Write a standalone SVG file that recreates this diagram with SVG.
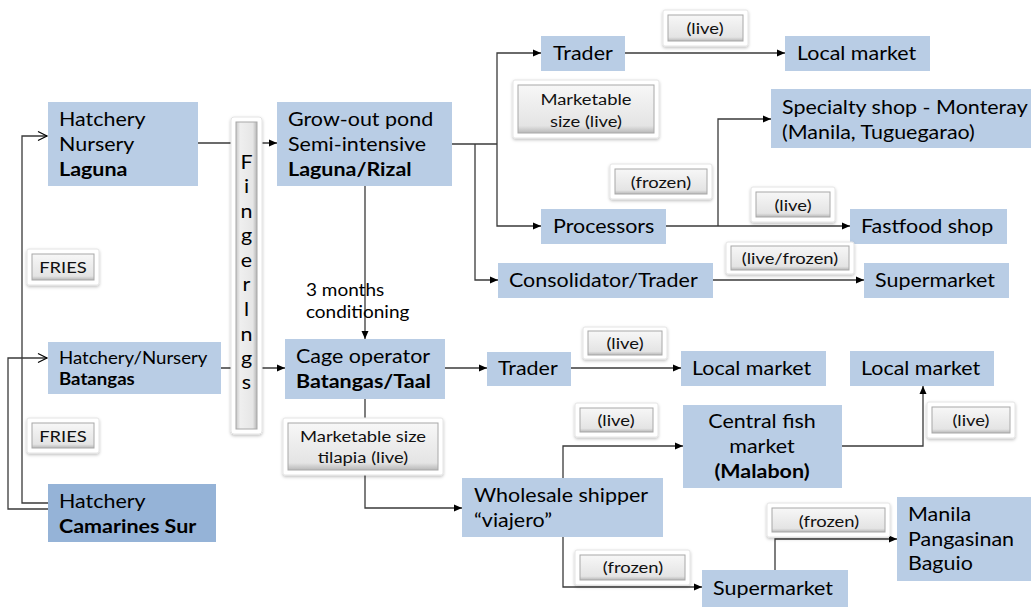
<svg xmlns="http://www.w3.org/2000/svg" width="1031" height="607" viewBox="0 0 1031 607">
<defs>
<style>
.box{fill:#B9CDE5}
.box2{fill:#95B3D7}
.t{font-family:Lato,"Liberation Sans",sans-serif;font-size:19px;fill:#000;transform-box:fill-box;transform-origin:0 0;transform:scaleX(1.13)}
.s{font-size:16.5px}
.b{font-weight:bold}
.c{text-anchor:middle;transform-origin:50% 0}
.sm{font-size:16.5px;transform:scaleX(1.15)}
.lt{font-family:Lato,"Liberation Sans",sans-serif;font-size:16px;fill:#111;text-anchor:middle;transform-box:fill-box;transform-origin:50% 0;transform:scaleX(1.15)}
.ln{stroke:#3a3a3a;stroke-width:1.3;fill:none}
.fa{marker-end:url(#arr)}
.oa{marker-end:url(#oarr)}
.lo{fill:#fff;stroke:#e4e4e4;stroke-width:1;filter:url(#sh)}
.li{fill:url(#gg);stroke:#a8a8a8;stroke-width:1}
</style>
<linearGradient id="gg" x1="0" y1="0" x2="0" y2="1">
<stop offset="0" stop-color="#f7f7f7"/>
<stop offset="0.85" stop-color="#e4e4e4"/>
<stop offset="1" stop-color="#b8b8b8"/>
</linearGradient>
<linearGradient id="gv" x1="0" y1="0" x2="1" y2="0">
<stop offset="0" stop-color="#c8c8c8"/>
<stop offset="0.2" stop-color="#efefef"/>
<stop offset="0.8" stop-color="#e6e6e6"/>
<stop offset="1" stop-color="#b5b5b5"/>
</linearGradient>
<filter id="sh" x="-20%" y="-30%" width="140%" height="170%">
<feDropShadow dx="0" dy="1.5" stdDeviation="1.5" flood-color="#000" flood-opacity="0.25"/>
</filter>
<marker id="arr" markerUnits="userSpaceOnUse" markerWidth="9" markerHeight="8" refX="8" refY="4" orient="auto">
<path d="M0,0.5 L8,4 L0,7.5 z" fill="#000"/>
</marker>
<marker id="oarr" markerUnits="userSpaceOnUse" markerWidth="12" markerHeight="12" refX="10" refY="6" orient="auto">
<path d="M1,1.5 L10,6 L1,10.5" fill="none" stroke="#000" stroke-width="1.2"/>
</marker>
</defs>
<rect width="1031" height="607" fill="#fff"/>

<g id="connectors">
<polyline class="ln oa" points="48,503 22,503 22,136 47,136"/>
<polyline class="ln oa" points="48,509 8,509 8,358 47,358"/>
<line class="ln fa" x1="198" y1="143" x2="277" y2="143"/>
<line class="ln fa" x1="221" y1="368" x2="285" y2="368"/>
<line class="ln fa" x1="365" y1="186" x2="365" y2="339"/>
<polyline class="ln" points="452,144 497,144"/>
<polyline class="ln fa" points="497,144 497,53 541,53"/>
<polyline class="ln fa" points="497,144 497,226 541,226"/>
<polyline class="ln fa" points="475,144 475,280 498,280"/>
<line class="ln fa" x1="625" y1="53" x2="785" y2="53"/>
<line class="ln fa" x1="666" y1="226" x2="850" y2="226"/>
<polyline class="ln fa" points="718,226 718,119 771,119"/>
<line class="ln fa" x1="713" y1="280" x2="864" y2="280"/>
<line class="ln fa" x1="445" y1="368" x2="487" y2="368"/>
<line class="ln fa" x1="571" y1="368" x2="681" y2="368"/>
<polyline class="ln fa" points="365,399 365,508 462,508"/>
<polyline class="ln fa" points="563,478 563,446 683,446"/>
<polyline class="ln fa" points="563,537 563,587 702,587"/>
<polyline class="ln fa" points="842,446 923,446 923,386"/>
<polyline class="ln fa" points="775,570 775,539 897,539"/>
</g>

<g id="hatchery-laguna">
<rect class="box" x="48" y="102" width="150" height="84"/>
<text class="t" x="59" y="126">Hatchery</text>
<text class="t" x="59" y="151">Nursery</text>
<text class="t b" x="59" y="176">Laguna</text>
</g>
<g id="hatchery-batangas">
<rect class="box" x="48" y="342" width="173" height="52"/>
<text class="t s" x="59" y="364">Hatchery/Nursery</text>
<text class="t s b" x="59" y="385">Batangas</text>
</g>
<g id="hatchery-camarines">
<rect class="box2" x="48" y="484" width="168" height="58"/>
<text class="t" x="59" y="508">Hatchery</text>
<text class="t b" x="59" y="533">Camarines Sur</text>
</g>
<g id="fries-1">
<rect class="lo" x="27" y="249" width="72" height="36" rx="2"/>
<rect class="li" x="32" y="254" width="62" height="26"/>
<text class="lt" x="63" y="273">FRIES</text>
</g>
<g id="fries-2">
<rect class="lo" x="27" y="418" width="72" height="35" rx="2"/>
<rect class="li" x="32" y="423" width="62" height="25"/>
<text class="lt" x="63" y="442">FRIES</text>
</g>
<g id="fingerlings">
<rect class="lo" x="231" y="117" width="31" height="317" rx="3"/>
<rect x="236" y="122" width="21" height="307" fill="url(#gv)" stroke="#a8a8a8" stroke-width="1"/>
<text class="t c" x="246.5" y="169">F</text>
<text class="t c" x="246.5" y="193">i</text>
<text class="t c" x="246.5" y="218">n</text>
<text class="t c" x="246.5" y="242">g</text>
<text class="t c" x="246.5" y="267">e</text>
<text class="t c" x="246.5" y="291">r</text>
<text class="t c" x="246.5" y="316">l</text>
<text class="t c" x="246.5" y="341">n</text>
<text class="t c" x="246.5" y="365">g</text>
<text class="t c" x="246.5" y="389">s</text>
</g>
<g id="grow-out-pond">
<rect class="box" x="277" y="102" width="175" height="84"/>
<text class="t" x="288" y="126">Grow-out pond</text>
<text class="t" x="288" y="151">Semi-intensive</text>
<text class="t b" x="288" y="176">Laguna/Rizal</text>
</g>
<g id="conditioning-label">
<text class="t sm" x="306" y="296">3 months</text>
<text class="t sm" x="306" y="318">conditioning</text>
</g>
<g id="cage-operator">
<rect class="box" x="285" y="339" width="160" height="60"/>
<text class="t" x="296" y="363">Cage operator</text>
<text class="t b" x="296" y="388">Batangas/Taal</text>
</g>
<g id="trader-1">
<rect class="box" x="541" y="36" width="84" height="35"/>
<text class="t" x="553" y="60">Trader</text>
</g>
<g id="live-1">
<rect class="lo" x="663" y="10" width="85" height="36" rx="2"/>
<rect class="li" x="668" y="15" width="75" height="26"/>
<text class="lt" x="705" y="34">(live)</text>
</g>
<g id="local-market-1">
<rect class="box" x="785" y="36" width="145" height="35"/>
<text class="t" x="797" y="60">Local market</text>
</g>
<g id="marketable-size-live">
<rect class="lo" x="513" y="80" width="146" height="58" rx="2"/>
<rect class="li" x="518" y="85" width="136" height="48"/>
<text class="lt" x="586" y="105">Marketable</text>
<text class="lt" x="586" y="127">size (live)</text>
</g>
<g id="specialty-shop">
<rect class="box" x="771" y="89" width="260" height="59"/>
<text class="t" x="782" y="114">Specialty shop - Monteray</text>
<text class="t" x="782" y="139">(Manila, Tuguegarao)</text>
</g>
<g id="frozen-1">
<rect class="lo" x="610" y="164" width="102" height="35" rx="2"/>
<rect class="li" x="615" y="169" width="92" height="25"/>
<text class="lt" x="661" y="188">(frozen)</text>
</g>
<g id="processors">
<rect class="box" x="541" y="209" width="125" height="35"/>
<text class="t" x="553" y="233">Processors</text>
</g>
<g id="live-2">
<rect class="lo" x="751" y="187" width="84" height="35" rx="2"/>
<rect class="li" x="756" y="192" width="74" height="25"/>
<text class="lt" x="793" y="211">(live)</text>
</g>
<g id="fastfood-shop">
<rect class="box" x="850" y="209" width="157" height="35"/>
<text class="t" x="861" y="233">Fastfood shop</text>
</g>
<g id="live-frozen">
<rect class="lo" x="726" y="242" width="128" height="32" rx="2"/>
<rect class="li" x="731" y="246" width="118" height="24"/>
<text class="lt" x="790" y="264">(live/frozen)</text>
</g>
<g id="consolidator-trader">
<rect class="box" x="498" y="263" width="215" height="35"/>
<text class="t" x="509" y="287">Consolidator/Trader</text>
</g>
<g id="supermarket-1">
<rect class="box" x="864" y="263" width="145" height="35"/>
<text class="t" x="875" y="287">Supermarket</text>
</g>
<g id="trader-2">
<rect class="box" x="487" y="352" width="84" height="34"/>
<text class="t" x="498" y="375">Trader</text>
</g>
<g id="live-3">
<rect class="lo" x="583" y="327" width="84" height="32" rx="2"/>
<rect class="li" x="588" y="331" width="74" height="24"/>
<text class="lt" x="625" y="349">(live)</text>
</g>
<g id="local-market-2">
<rect class="box" x="681" y="351" width="145" height="35"/>
<text class="t" x="692" y="375">Local market</text>
</g>
<g id="local-market-3">
<rect class="box" x="850" y="351" width="144" height="35"/>
<text class="t" x="861" y="375">Local market</text>
</g>
<g id="marketable-size-tilapia">
<rect class="lo" x="283" y="418" width="160" height="57" rx="2"/>
<rect class="li" x="288" y="423" width="150" height="47"/>
<text class="lt" x="363" y="442">Marketable size</text>
<text class="lt" x="363" y="463">tilapia (live)</text>
</g>
<g id="live-4">
<rect class="lo" x="575" y="403" width="83" height="34" rx="2"/>
<rect class="li" x="580" y="408" width="73" height="24"/>
<text class="lt" x="616" y="426">(live)</text>
</g>
<g id="central-fish-market">
<rect class="box" x="683" y="405" width="159" height="83"/>
<text class="t c" x="762" y="428">Central fish</text>
<text class="t c" x="762" y="453">market</text>
<text class="t c b" x="762" y="478">(Malabon)</text>
</g>
<g id="live-5">
<rect class="lo" x="927" y="402" width="88" height="36" rx="2"/>
<rect class="li" x="932" y="407" width="78" height="26"/>
<text class="lt" x="971" y="426">(live)</text>
</g>
<g id="wholesale-shipper">
<rect class="box" x="462" y="478" width="201" height="59"/>
<text class="t" x="474" y="502">Wholesale shipper</text>
<text class="t" x="474" y="527">“viajero”</text>
</g>
<g id="frozen-2">
<rect class="lo" x="575" y="550" width="115" height="35" rx="2"/>
<rect class="li" x="580" y="555" width="105" height="25"/>
<text class="lt" x="633" y="573">(frozen)</text>
</g>
<g id="frozen-3">
<rect class="lo" x="767" y="503" width="123" height="34" rx="2"/>
<rect class="li" x="772" y="508" width="113" height="24"/>
<text class="lt" x="829" y="527">(frozen)</text>
</g>
<g id="supermarket-2">
<rect class="box" x="702" y="570" width="146" height="37"/>
<text class="t" x="713" y="595">Supermarket</text>
</g>
<g id="manila-pangasinan-baguio">
<rect class="box" x="897" y="497" width="134" height="84"/>
<text class="t" x="908" y="521">Manila</text>
<text class="t" x="908" y="546">Pangasinan</text>
<text class="t" x="908" y="570">Baguio</text>
</g>
</svg>
